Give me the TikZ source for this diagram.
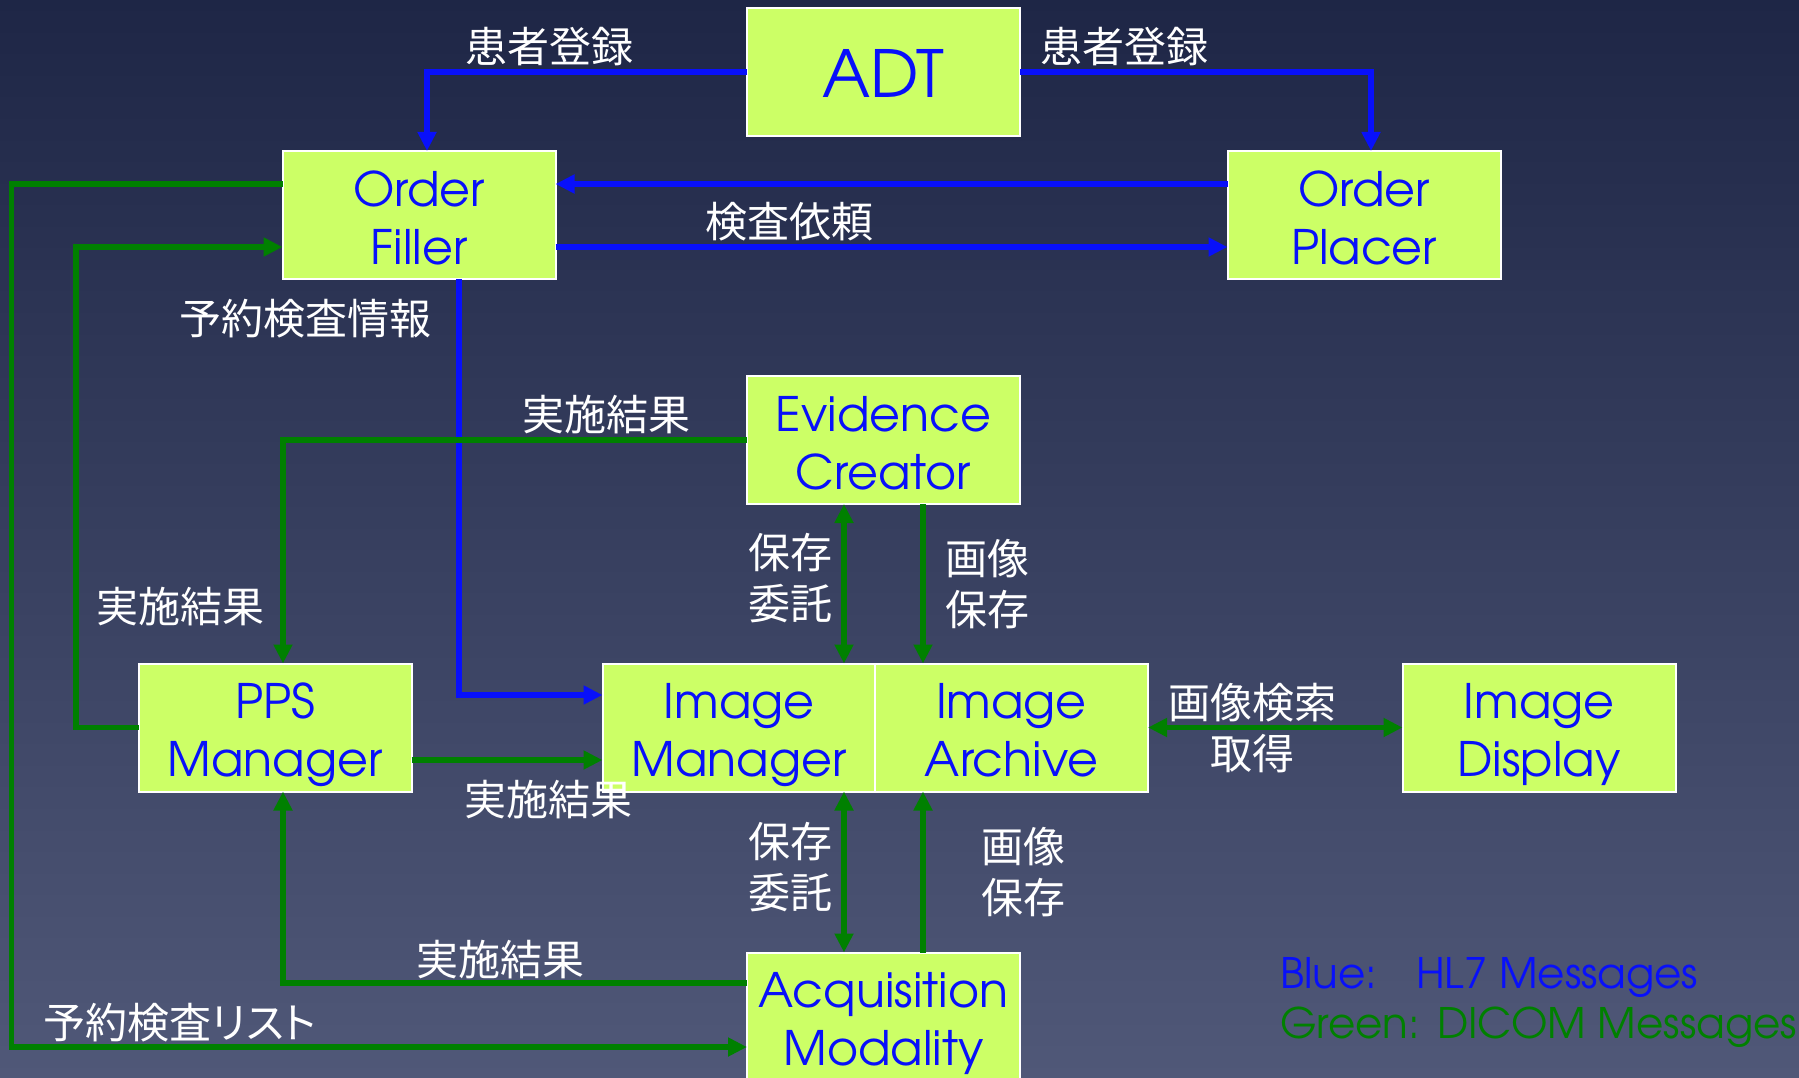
\documentclass[tikz,border=0pt]{standalone}
\usepackage{fontspec}
\usetikzlibrary{arrows.meta}
\setmainfont{TeX Gyre Adventor}
\newfontfamily\jpfont{Noto Sans CJK JP}
\newfontfamily\jppfont[RawFeature=+palt]{Noto Sans CJK JP}
\definecolor{bgtop}{RGB}{30,38,70}
\definecolor{bgbot}{RGB}{80,88,120}
\definecolor{lime}{RGB}{204,255,102}
\definecolor{hlblue}{RGB}{8,16,250}
\definecolor{dgreen}{RGB}{0,128,0}
\newcommand\twol[2]{\raisebox{-49pt}[0pt][0pt]{\begin{tabular}[b]{@{}c@{}}#1\\#2\end{tabular}}}
\begin{document}
\begin{tikzpicture}[x=1pt,y=-1pt,
  box/.style={draw=white, line width=2pt, fill=lime, minimum width=273pt, minimum height=128pt,
    inner sep=0pt, outer sep=0pt, text=hlblue, font=\fontsize{47.5}{58}\selectfont},
  tipa/.tip={Triangle[length=19pt,width=18pt]},
  hl7/.style={draw=hlblue, line width=5.5pt, -tipa},
  dcm/.style={draw=dgreen, line width=5.5pt, -tipa},
  dboth/.style={draw=dgreen, line width=5.5pt, tipa-tipa},
  lbl/.style={text=white, font=\jpfont\fontsize{42}{51}\selectfont, align=center, inner sep=0pt},
  legend/.style={anchor=base west, inner sep=0pt, font=\fontsize{42}{50}\selectfont}]
\useasboundingbox (0,0) rectangle (1799,1078);
\fill[top color=bgtop, bottom color=bgbot] (0,0) rectangle (1799,1078);

% boxes
\node[box, font=\fontsize{65}{70}\selectfont] (adt) at (883.5,72) {\raisebox{-25.5pt}[0pt][0pt]{ADT}};
\node[box] (of)  at (419,215)    {\twol{Order}{Filler}};
\node[box] (op)  at (1364,215)   {\twol{Order}{Placer}};
\node[box] (ec)  at (883.5,440)  {\twol{Evidence}{Creator}};
\node[box] (pps) at (275,727.5)  {\twol{PPS}{Manager}};
\node[box] (im)  at (739,727.5)  {\twol{Image}{Manager}};
\node[box] (ia)  at (1011.5,727.5) {\twol{Image}{Archive}};
\node[box] (id)  at (1539,727.5) {\twol{Image}{Display}};
\node[box] (acq) at (883.5,1016.5) {\twol{Acquisition}{Modality}};

% waypoints
\coordinate (fcorner) at (11.5,1047);
\coordinate (gcorner) at (76,247);

% HL7 (blue)
\draw[hl7] (adt.west) -| (427,0 |- of.north);
\draw[hl7] (adt.east) -| (1371,0 |- op.north);
\draw[hl7] (op.west |- 0,184) -- (of.east |- 0,184);
\draw[hl7] (of.east |- 0,247) -- (op.west |- 0,247);
\draw[hl7] (459,0 |- of.south) |- (im.west |- 0,695);

% DICOM (green)
\draw[dcm] (of.west |- 0,184) -| (fcorner) -- (acq.west |- fcorner);
\draw[dcm] (pps.west) -| (gcorner) -- (of.west |- gcorner);
\draw[dcm] (ec.west) -| (283,0 |- pps.north);
\draw[dcm] (pps.east |- 0,760) -- (im.west |- 0,760);
\draw[dcm] (acq.west |- 0,983) -| (283,0 |- pps.south);
\draw[dboth] (844,0 |- ec.south) -- (844,0 |- im.north);
\draw[dcm] (923,0 |- ec.south) -- (923,0 |- ia.north);
\draw[dboth] (844,0 |- im.south) -- (844,0 |- acq.north);
\draw[dcm] (923,0 |- acq.north) -- (923,0 |- ia.south);
\draw[dboth] (ia.east) -- (id.west);

% labels
\node[lbl] (l1) at (549,46.5) {患者登録};
\node[lbl] (l2) at (1124.5,46.5) {患者登録};
\node[lbl] (l3) at (789,222) {検査依頼};
\node[lbl] (l4) at (305,319) {予約検査情報};
\node[lbl] (l5) at (606,415) {実施結果};
\node[lbl] (l6) at (180,607) {実施結果};
\node[lbl] (l7) at (548,800) {実施結果};
\node[lbl] (l8) at (500,960) {実施結果};
\node[lbl, font=\jppfont\fontsize{42}{51}\selectfont] (l9) at (180,1023) {予約検査リスト};
\node[lbl] (l10) at (790,578.5) {保存\\委託};
\node[lbl] (l11) at (987,584.5) {画像\\保存};
\node[lbl] (l12) at (790,867.5) {保存\\委託};
\node[lbl] (l13) at (1023,872.5) {画像\\保存};
\node[lbl] (l14) at (1252,728) {画像検索\\取得};

% legend
\node[legend, text=hlblue] (lg1) at (1280,988) {\makebox[136pt][l]{Blue:}HL7 Messages};
\node[legend, text=dgreen] (lg2) at (1280,1038) {\makebox[157pt][l]{Green:}DICOM Messages};
\end{tikzpicture}
\end{document}
